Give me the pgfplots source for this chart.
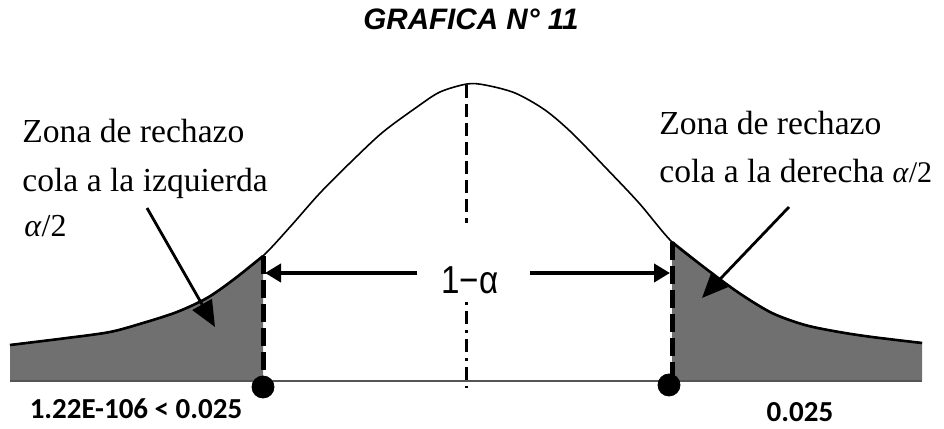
\documentclass[border=0pt]{standalone}
\usepackage{fontspec}
\setmainfont{Liberation Serif}
\newfontfamily\arialfont{Liberation Sans}
\newfontfamily\califont{Carlito}
\usepackage{pgfplots}
\pgfplotsset{compat=1.18}
\usetikzlibrary{arrows.meta}
\definecolor{tailgray}{HTML}{707070}
\definecolor{basegray}{HTML}{555555}

% curve digitised in pixel space (y measured upwards)
\pgfplotstableread{
x y
10 81
67 88
110 94
143 103
177 114
207 128
233 146
263 170
290 199
320 233
353 266
383 294
417 319
440 334
467 342
485 341
515 333
545 316
572 293
605 259
639 223
672 184
705 158
739 133
772 113
805 101
839 94
872 89
922 83
}\curve

\begin{document}
\begin{tikzpicture}
\begin{axis}[
  width=472pt, height=213pt, scale only axis,
  xmin=0, xmax=944, ymin=0, ymax=426,
  hide axis, clip=false,
]
\path (rel axis cs:0,0) rectangle (rel axis cs:1,1);
% rejection tails
\addplot[fill=tailgray, draw=none] coordinates {
  (10,45) (10,81) (67,88) (110,94) (143,103) (177,114) (207,128) (233,146) (263,170) (263,45)} -- cycle;
\addplot[fill=tailgray, draw=none] coordinates {
  (672,45) (672,184) (705,158) (739,133) (772,113) (805,101) (839,94) (872,89) (922,83) (922,45)} -- cycle;
% baseline
\addplot[basegray, line width=1pt] coordinates {(10,45) (922,45)};
% bell curve
\addplot[black, line width=0.8pt, smooth] table {\curve};
% heavier edge over the tails
\addplot[black, line width=1.3pt, smooth] coordinates {(10,81) (67,88) (110,94) (143,103) (177,114) (207,128) (233,146) (263,170)};
\addplot[black, line width=1.3pt, smooth] coordinates {(672,184) (705,158) (739,133) (772,113) (805,101) (839,94) (872,89) (922,83)};
% centre line, broken around the label
\addplot[black, line width=1.5pt, dash pattern=on 6.5pt off 3pt] coordinates {(466,341) (466,203)};
\addplot[black, line width=1.5pt, dash pattern=on 1.5pt off 3pt on 6.5pt off 3pt] coordinates {(466,124) (466,38)};
% critical values
\addplot[black, line width=2.5pt, dash pattern=on 9pt off 3pt] coordinates {(263,170) (263,32)};
\addplot[black, line width=2.5pt, dash pattern=on 9pt off 3pt] coordinates {(672,184) (672,32)};
\addplot[only marks, mark=*, mark size=5.5pt, black] coordinates {(263,39) (669,41)};
% 1-alpha arrows
\draw[line width=2pt, -{Triangle[length=8pt,width=9pt]}] (axis cs:417,153) -- (axis cs:265,153);
\draw[line width=2pt, -{Triangle[length=8pt,width=9pt]}] (axis cs:530,153) -- (axis cs:670,153);
\node[anchor=base] at (axis cs:470,132) {\scalebox{0.85}[1]{\arialfont\fontsize{19.5}{20}\selectfont 1−α}};
% pointers
\draw[line width=1.4pt, -{Triangle[length=13pt,width=11pt]}] (axis cs:147,218) -- (axis cs:215,99);
\draw[line width=1.4pt, -{Triangle[length=13pt,width=11pt]}] (axis cs:789,219) -- (axis cs:702,128);
% annotations
\begin{scope}[every node/.style={anchor=base west, inner sep=0pt, font=\fontsize{16.8}{20}\selectfont}]
\node at (axis cs:22,283) {Zona de rechazo};
\node at (axis cs:22,234) {cola a la izquierda};
\node at (axis cs:24,189) {\fontsize{16}{18}\selectfont\textit{α}/2};
\node at (axis cs:659,291) {Zona de rechazo};
\node at (axis cs:659,243) {cola a la derecha \fontsize{15}{16}\selectfont\textit{α}/2};
\end{scope}
\node[anchor=base] at (axis cs:471,396) {\arialfont\bfseries\itshape\fontsize{14.8}{16}\selectfont GRAFICA N° 11};
\node[anchor=base] at (axis cs:136,7) {\califont\bfseries\fontsize{14.5}{16}\selectfont 1.22E-106 < 0.025};
\node[anchor=base] at (axis cs:800,4) {\califont\bfseries\fontsize{14.5}{16}\selectfont 0.025};
\end{axis}
\end{tikzpicture}
\end{document}
